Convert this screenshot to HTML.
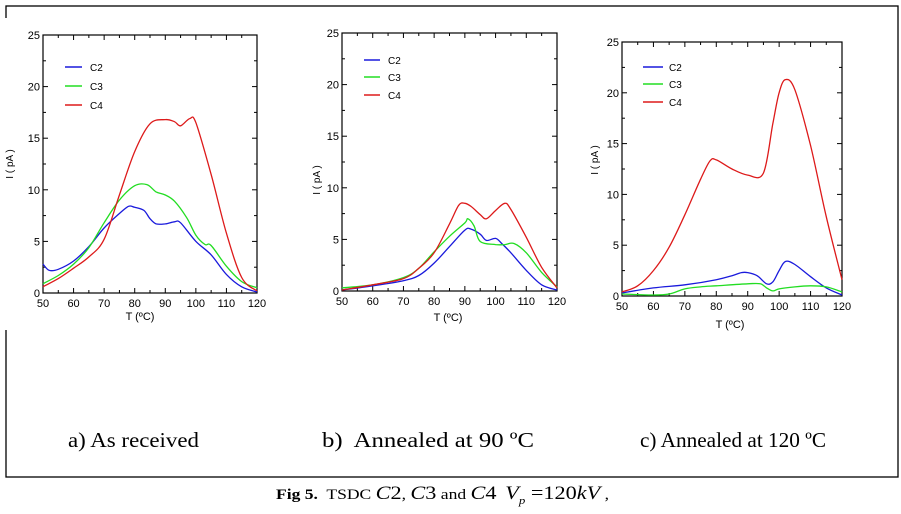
<!DOCTYPE html>
<html><head><meta charset="utf-8"><style>
html,body{margin:0;padding:0;background:#fff;}
body{width:901px;height:514px;overflow:hidden;position:relative;font-family:"Liberation Sans",sans-serif;}
svg{position:absolute;left:0;top:0;}
</style></head><body>
<svg id="fig" width="901" height="514">
<rect x="6" y="6" width="892" height="471" fill="none" stroke="#000" stroke-width="1.3"/>
<rect x="0" y="18" width="300" height="312" fill="#fff"/>
<rect x="590" y="30" width="300" height="310" fill="#fff"/>
<g font-family="Liberation Serif,serif" font-size="21" fill="#000">
<text x="68" y="447" textLength="131" lengthAdjust="spacingAndGlyphs">a) As received</text>
<text x="322" y="447" textLength="212" lengthAdjust="spacingAndGlyphs">b)&#160; Annealed at 90 ºC</text>
<text x="640" y="447" textLength="186" lengthAdjust="spacingAndGlyphs">c) Annealed at 120 ºC</text>
</g>
<text x="276" y="499" textLength="333" lengthAdjust="spacingAndGlyphs" font-family="Liberation Serif,serif" font-size="15"><tspan font-weight="bold">Fig 5.</tspan>&#160; TSDC <tspan font-style="italic" font-size="19">C</tspan><tspan font-size="19">2</tspan>, <tspan font-style="italic" font-size="19">C</tspan><tspan font-size="19">3</tspan> and <tspan font-style="italic" font-size="19">C</tspan><tspan font-size="19">4</tspan>&#160; <tspan font-style="italic" font-size="19">V</tspan><tspan font-style="italic" font-size="11" dy="5">p</tspan><tspan font-size="19" dy="-5"> =120</tspan><tspan font-style="italic" font-size="19">kV</tspan> ,</text>
</svg>
<script>
// Panel a: As received
const aC2x=[50,52,55,60,65,70,75,78,80,83,85,87,90,93,95,100,105,110,115,120];
const aC2y=[2.8,2.2,2.3,3.1,4.5,6.3,7.7,8.4,8.3,8.0,7.2,6.7,6.7,6.9,6.8,5.0,3.7,1.8,0.6,0.1];
const aC3x=[50,55,60,65,70,75,80,84,87,90,93,97,100,103,105,110,115,120];
const aC3y=[0.9,1.7,2.8,4.4,6.8,9.0,10.4,10.5,9.8,9.5,8.9,7.3,5.6,4.7,4.6,2.6,1.1,0.5];
const aC4x=[50,55,60,65,70,75,80,85,90,93,95,98,100,105,110,115,120];
const aC4y=[0.6,1.4,2.4,3.5,5.2,9.5,13.7,16.4,16.8,16.6,16.2,16.9,16.5,11.5,5.8,1.5,0.2];
// Panel b: Annealed at 90
const bC2x=[50,60,70,75,80,85,90,92,95,97,100,102,105,110,115,120];
const bC2y=[0.1,0.5,1.0,1.5,2.7,4.3,5.9,6.0,5.5,4.9,5.1,4.6,3.7,2.0,0.6,0.1];
const bC3x=[50,60,70,75,80,85,90,91,93,95,100,103,106,110,115,120];
const bC3y=[0.3,0.6,1.3,2.2,3.8,5.3,6.6,7.0,6.3,4.8,4.5,4.5,4.6,3.7,1.8,0.4];
const bC4x=[50,60,70,75,80,85,88,90,92,95,97,100,103,105,110,115,120];
const bC4y=[0.1,0.6,1.2,2.2,3.7,6.5,8.3,8.5,8.2,7.4,7.0,7.8,8.5,7.9,5.2,2.3,0.3];
// Panel c: Annealed at 120
const cC2x=[50,60,70,80,85,88,90,93,96,98,100,102,105,110,115,120];
const cC2y=[0.3,0.8,1.1,1.6,2.0,2.3,2.3,2.0,1.2,1.4,2.5,3.4,3.1,1.9,0.8,0.1];
const cC3x=[50,60,65,70,75,80,90,94,96,98,100,105,110,115,120];
const cC3y=[0.2,0.1,0.2,0.7,0.9,1.0,1.2,1.2,0.8,0.5,0.7,0.9,1.0,0.9,0.4];
const cC4x=[50,55,60,65,70,75,78,80,85,90,95,98,100,102,105,110,115,120];
const cC4y=[0.4,1.0,2.5,4.8,8.0,11.5,13.3,13.4,12.5,11.9,12.1,17.0,20.0,21.3,20.3,14.8,7.8,1.6];
const xTicks=[50,60,70,80,90,100,110,120];
const yTicks=[0,5,10,15,20,25];
const seriesNames=["C2","C3","C4"];
const colors=["#1a1adc","#22dd22","#dd1a1a"];

const svg=document.getElementById('fig');
const NS="http://www.w3.org/2000/svg";
function mk(tag,attrs){const e=document.createElementNS(NS,tag);for(const k in attrs)e.setAttribute(k,attrs[k]);svg.appendChild(e);return e;}
function smooth(P){
 let d='M'+P[0][0].toFixed(1)+','+P[0][1].toFixed(1);
 for(let i=0;i<P.length-1;i++){
  const p0=P[Math.max(0,i-1)],p1=P[i],p2=P[i+1],p3=P[Math.min(P.length-1,i+2)];
  const c1=[p1[0]+(p2[0]-p0[0])/6,p1[1]+(p2[1]-p0[1])/6];
  const c2=[p2[0]-(p3[0]-p1[0])/6,p2[1]-(p3[1]-p1[1])/6];
  d+=' C'+c1[0].toFixed(1)+','+c1[1].toFixed(1)+' '+c2[0].toFixed(1)+','+c2[1].toFixed(1)+' '+p2[0].toFixed(1)+','+p2[1].toFixed(1);
 }
 return d;
}

const panels=[
 {id:'a',x0:43,x1:257,y0:293,y1:35,data:[[aC2x,aC2y],[aC3x,aC3y],[aC4x,aC4y]],leg:{lx:65,lx2:82,tx:90,ys:[67,86,105]},yl:[13,164],xl:[140,320]},
 {id:'b',x0:342,x1:557,y0:291,y1:33,data:[[bC2x,bC2y],[bC3x,bC3y],[bC4x,bC4y]],leg:{lx:364,lx2:380,tx:388,ys:[60,77,95]},yl:[320,180],xl:[448,321]},
 {id:'c',x0:622,x1:842,y0:296,y1:42,data:[[cC2x,cC2y],[cC3x,cC3y],[cC4x,cC4y]],leg:{lx:643,lx2:663,tx:669,ys:[67,84,102]},yl:[598,160],xl:[730,328]}
];
panels.forEach(p=>{
 const sx=v=>p.x0+(v-50)/70*(p.x1-p.x0);
 const sy=v=>p.y0+v/25*(p.y1-p.y0);
 const fr=mk('rect',{x:p.x0,y:p.y1,width:p.x1-p.x0,height:p.y0-p.y1,fill:'none',stroke:'#000','stroke-width':1.2});
 
 
 for(let v=50;v<=120;v+=5){const X=sx(v),L=(v%10===0)?5:3;
  mk('line',{x1:X,y1:p.y0,x2:X,y2:p.y0-L,stroke:'#000'});mk('line',{x1:X,y1:p.y1,x2:X,y2:p.y1+L,stroke:'#000'});}
 for(let v=0;v<=25;v+=2.5){const Y=sy(v),L=(v%5===0)?5:3;
  mk('line',{x1:p.x0,y1:Y,x2:p.x0+L,y2:Y,stroke:'#000'});mk('line',{x1:p.x1,y1:Y,x2:p.x1-L,y2:Y,stroke:'#000'});}
 xTicks.forEach(v=>{const t=mk('text',{x:sx(v),y:p.y0+14,'text-anchor':'middle','font-size':11});t.textContent=v;
  
  });
 yTicks.forEach(v=>{const t=mk('text',{x:p.x0-3,y:sy(v)+4,'text-anchor':'end','font-size':11});t.textContent=v;
  
  });
 const xt=mk('text',{x:p.xl[0],y:p.xl[1],'text-anchor':'middle','font-size':11});xt.textContent='T  (ºC)';
 
 
 const yt=mk('text',{x:p.yl[0],y:p.yl[1],'text-anchor':'middle','font-size':10,transform:`rotate(-90 ${p.yl[0]} ${p.yl[1]})`});yt.textContent='I  ( pA )';
 
 
 p.data.forEach((d,i)=>{
  const P=d[0].map((x,k)=>[sx(x),sy(d[1][k])]);
  const pl=mk('path',{d:smooth(P),fill:'none',stroke:colors[i],'stroke-width':1.3,'stroke-linejoin':'round'});
  
  
  const Y=p.leg.ys[i];
  const ll=mk('line',{x1:p.leg.lx,y1:Y,x2:p.leg.lx2,y2:Y,stroke:colors[i],'stroke-width':1.5});
  
  
  const lt=mk('text',{x:p.leg.tx,y:Y+4,'font-size':10});lt.textContent=seriesNames[i];
  
  
 });
});
</script>
</body></html>
